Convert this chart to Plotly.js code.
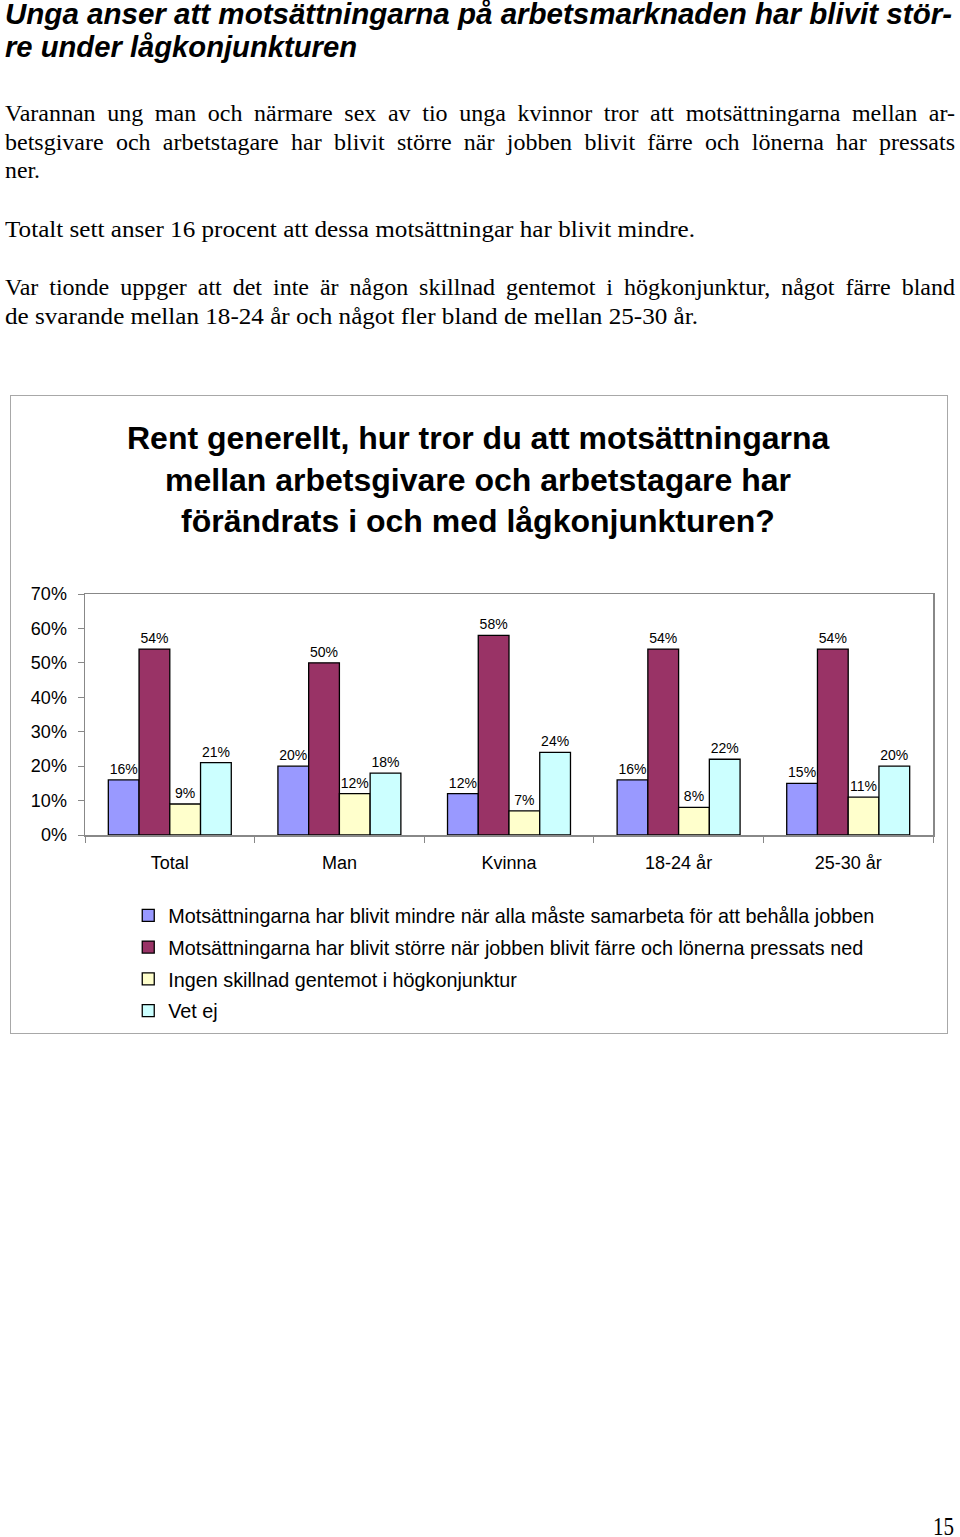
<!DOCTYPE html>
<html lang="sv">
  <head>
    <meta charset="utf-8">
    <title>Motsättningar på arbetsmarknaden</title>
    <script src="https://cdn.plot.ly/plotly-3.0.1.min.js" charset="utf-8"></script>
    <style>
      body { margin:0; width:960px; height:1537px; position:relative; background:#fff; overflow:hidden; }
      .ln { position:absolute; white-space:nowrap; line-height:1; color:#000; transform-origin:0 0; }
      .h { font-family:"Liberation Sans", Arial, sans-serif; font-weight:bold; font-style:italic; font-size:29px; }
      .p { font-family:"Liberation Serif", "Times New Roman", serif; font-size:24px; }
      #frame { position:absolute; left:10px; top:395px; width:938px; height:639px; box-sizing:border-box;
               border:1.5px solid #a8a8a8; pointer-events:none; }
      #plot { position:absolute; left:11px; top:396px; width:936px; height:637px; }
    </style>
  </head>
  <body>
    <div class="ln h" style="left:5px;top:0px" data-w="947">Unga anser att motsättningarna på arbetsmarknaden har blivit stör-</div>
    <div class="ln h" style="left:5px;top:33px" data-w="352">re under lågkonjunkturen</div>

    <div class="ln p" style="left:5px;top:101px" data-w="950" data-j="1">Varannan ung man och närmare sex av tio unga kvinnor tror att motsättningarna mellan ar-</div>
    <div class="ln p" style="left:5px;top:130px" data-w="950" data-j="1">betsgivare och arbetstagare har blivit större när jobben blivit färre och lönerna har pressats</div>
    <div class="ln p" style="left:5px;top:158px" data-w="35">ner.</div>

    <div class="ln p" style="left:5px;top:217px" data-w="690">Totalt sett anser 16 procent att dessa motsättningar har blivit mindre.</div>

    <div class="ln p" style="left:5px;top:275px" data-w="950" data-j="1">Var tionde uppger att det inte är någon skillnad gentemot i högkonjunktur, något färre bland</div>
    <div class="ln p" style="left:5px;top:304px" data-w="693">de svarande mellan 18-24 år och något fler bland de mellan 25-30 år.</div>

    <div class="ln p" style="left:933px;top:1514px;font-size:25px" data-w="21">15</div>

    <div id="plot"></div>
    <div id="frame"></div>

    <script type="text/javascript">
      // fit each text line to the width it has on the scanned page
      for (let el of document.querySelectorAll('.ln')) {
        let target = +el.dataset.w;
        let natural = el.getBoundingClientRect().width;
        if (el.dataset.j && natural < target) {
          el.style.width = target + 'px';
          el.style.textAlign = 'justify';
          el.style.textAlignLast = 'justify';
        } else {
          el.style.transform = 'scaleX(' + (target / natural) + ')';
        }
      }

      const FONT = '"Liberation Sans", Arial, sans-serif';

      const categories = ['Total', 'Man', 'Kvinna', '18-24 år', '25-30 år'];
      const mindre = [16, 20, 12, 16, 15];
      const storre = [54, 50, 58, 54, 54];
      const ingenSkillnad = [9, 12, 7, 8, 11];
      const vetEj = [21, 18, 24, 22, 20];
      const seriesNames = [
        'Motsättningarna har blivit mindre när alla måste samarbeta för att behålla jobben',
        'Motsättningarna har blivit större när jobben blivit färre och lönerna pressats ned',
        'Ingen skillnad gentemot i högkonjunktur',
        'Vet ej'
      ];
      const seriesColors = ['#9999FF', '#993366', '#FFFFCC', '#CCFFFF'];
      const titleLines = [
        'Rent generellt, hur tror du att motsättningarna',
        'mellan arbetsgivare och arbetstagare har',
        'förändrats i och med lågkonjunkturen?'
      ];

      let traces = [mindre, storre, ingenSkillnad, vetEj].map((values, i) => ({
        type: 'bar',
        x: categories,
        y: values,
        name: seriesNames[i],
        legendgroup: 'g' + i,
        marker: { color: seriesColors[i], line: { color: '#000', width: 1.3 } },
        texttemplate: '%{y}',          // axis ticksuffix already adds the %
        textposition: 'outside',
        constraintext: 'none',
        textfont: { family: FONT, size: 14, color: '#000' },
        cliponaxis: false,
        hoverinfo: 'skip'
      }));

      let titleY = [1.647, 1.473, 1.303];
      let annotations = titleLines.map((t, i) => ({
        text: t,
        xref: 'paper', yref: 'paper',
        x: 0.4634, y: titleY[i],
        xanchor: 'center', yanchor: 'middle',
        showarrow: false,
        font: { family: FONT, size: 32, weight: 'bold', color: '#000' }
      }));

      let layout = {
        width: 936,
        height: 637,
        margin: { l: 74, r: 14, t: 198, b: 198, autoexpand: false },
        paper_bgcolor: '#fff',
        plot_bgcolor: '#fff',
        font: { family: FONT, color: '#000' },
        barmode: 'group',
        bargap: 0.275,
        bargroupgap: 0,
        annotations: annotations,
        xaxis: {
          type: 'category',
          tickson: 'boundaries',
          ticks: 'outside',
          ticklen: 6,
          tickcolor: '#888',
          showline: true,
          linecolor: '#888',
          linewidth: 1.5,
          mirror: true,
          showgrid: false,
          tickfont: { family: FONT, size: 18 },
          ticklabelstandoff: 11,
          fixedrange: true
        },
        yaxis: {
          range: [0, 70],
          dtick: 10,
          ticksuffix: '%',
          ticks: 'outside',
          ticklen: 6,
          tickcolor: '#888',
          showline: true,
          linecolor: '#888',
          linewidth: 1.5,
          mirror: true,
          showgrid: false,
          zeroline: false,
          tickfont: { family: FONT, size: 18 },
          ticklabelstandoff: 7,
          fixedrange: true
        },
        showlegend: true,
        legend: {
          x: 0.051,
          xanchor: 'left',
          y: -0.253,
          yanchor: 'top',
          traceorder: 'grouped',
          tracegroupgap: 3,
          font: { family: FONT, size: 19.8, color: '#000' },
          bgcolor: 'rgba(0,0,0,0)'
        }
      };

      Plotly.newPlot(document.getElementById('plot'), traces, layout, { displayModeBar: false, staticPlot: true });
    </script>
  </body>
</html>
